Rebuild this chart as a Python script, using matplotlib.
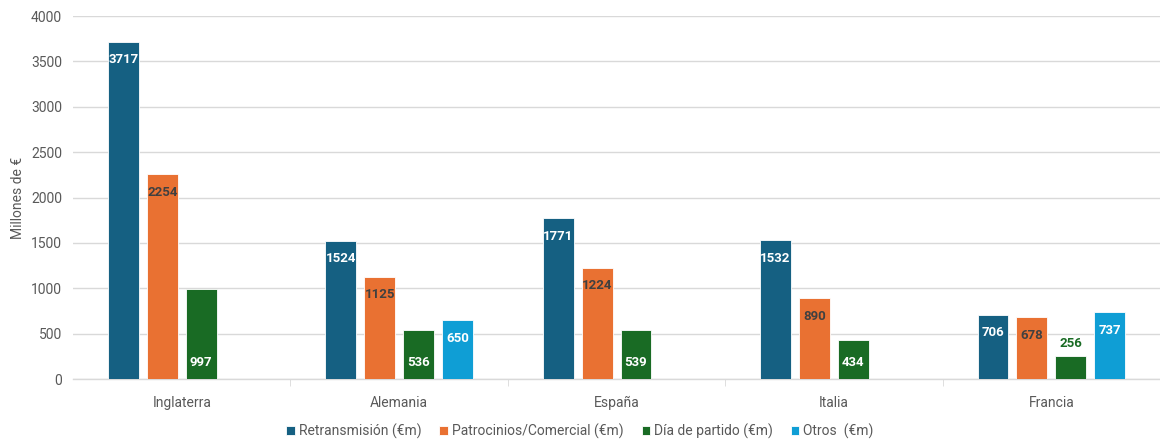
import numpy as np
import matplotlib
matplotlib.use("Agg")
import matplotlib.pyplot as plt

paises = ["Inglaterra", "Alemania", "España", "Italia", "Francia"]
series = ["Retransmisión (€m)", "Patrocinios/Comercial (€m)", "Día de partido (€m)", "Otros  (€m)"]
retransmision = [3717, 1524, 1771, 1532, 706]
patrocinios = [2254, 1125, 1224, 890, 678]
dia_partido = [997, 536, 539, 434, 256]
otros = [np.nan, 650, np.nan, np.nan, 737]

colores = ["#156082", "#E97132", "#196B24", "#0F9ED5"]
color_etiqueta = ["white", "#404040", "white", "white"]
# donde va la etiqueta: arriba dentro o abajo dentro
posicion = ["end", "end", "base", "end"]

plt.rcParams["font.family"] = ["Roboto", "DejaVu Sans"]

fig = plt.figure(figsize=(11.6, 4.42), dpi=100)
ax = fig.add_axes([0.063, 0.1425, 0.937, 0.8213])

x = np.arange(len(paises))
paso = 0.179
ancho = 0.142
datos = [retransmision, patrocinios, dia_partido, otros]

for i, vals in enumerate(datos):
    xs = x + (i - 1.5) * paso
    ax.bar(xs, vals, width=ancho, color=colores[i], label=series[i],
           edgecolor="white", linewidth=0.6, zorder=3)
    for xi, v in zip(xs, vals):
        if np.isnan(v):
            continue
        if posicion[i] == "base":
            if v < 300:
                ax.annotate(f"{v:.0f}", (xi, v), xytext=(0, 9), textcoords="offset points",
                            ha="center", va="center", fontsize=9.5, fontweight="bold",
                            color=colores[i], zorder=4)
            else:
                ax.annotate(f"{v:.0f}", (xi, 0), xytext=(0, 12), textcoords="offset points",
                            ha="center", va="center", fontsize=9.5, fontweight="bold",
                            color=color_etiqueta[i], zorder=4)
        else:
            ax.annotate(f"{v:.0f}", (xi, v), xytext=(0, -13), textcoords="offset points",
                        ha="center", va="center", fontsize=9.5, fontweight="bold",
                        color=color_etiqueta[i], zorder=4)

ax.set_xlim(-0.5, len(paises) - 0.5)
ax.set_ylim(0, 4000)
ax.set_yticks(np.arange(0, 4001, 500))
ax.yaxis.grid(True, color="#D9D9D9", linewidth=1)
ax.set_axisbelow(True)
for s in ["top", "right", "left"]:
    ax.spines[s].set_visible(False)
ax.spines["bottom"].set_color("#D9D9D9")
ax.spines["bottom"].set_linewidth(1)

ax.set_xticks(x)
ax.set_xticklabels(paises, fontsize=10, color="#595959")
ax.tick_params(axis="x", length=0, pad=12)
ax.set_xticks(np.arange(0.5, len(paises) - 1, 1), minor=True)
ax.tick_params(axis="x", which="minor", length=5, color="#D9D9D9")
ax.tick_params(axis="y", length=0, labelsize=10, labelcolor="#595959", pad=8)
ax.set_ylabel("Millones de €", fontsize=10, color="#595959", labelpad=4)

leg = fig.legend(loc="center", bbox_to_anchor=(0.5, 0.025), ncol=4, frameon=False,
                 fontsize=10, handlelength=0.6, handleheight=0.6, handletextpad=0.3,
                 columnspacing=1.3, labelcolor="#595959")

fig.savefig("out.png", dpi=100)
